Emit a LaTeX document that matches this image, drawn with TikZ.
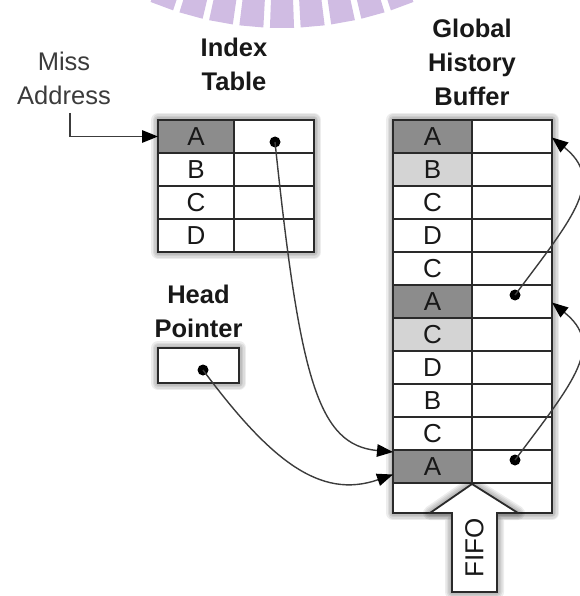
\documentclass[tikz,border=0pt]{standalone}
\usepackage{fontspec}
\setmainfont{Liberation Sans}
\usetikzlibrary{calc,arrows.meta}
\definecolor{cellDark}{RGB}{140,140,140}
\definecolor{cellLight}{RGB}{212,212,212}
\definecolor{gridLine}{RGB}{42,42,42}
\definecolor{wireGray}{RGB}{60,60,60}
\definecolor{crestPurple}{RGB}{208,188,227}
\definecolor{inkBlack}{RGB}{24,24,24}
\pgfdeclarelayer{back}
\pgfsetlayers{back,main}
\begin{document}
\begin{tikzpicture}[x=1pt,y=-1pt,
  cell/.style={draw=gridLine, line width=1.6pt, minimum height=33pt,
    inner sep=0pt, outer sep=0pt, text=inkBlack,
    font=\fontsize{26}{26}\selectfont, text height=18pt, text depth=0pt},
  frame/.style={draw=gridLine, line width=2.2pt},
  haze/.style={draw=black, opacity=0.07, line join=round, yshift=-2.5pt},
  title/.style={anchor=base, inner sep=0pt, text=inkBlack,
    font=\fontsize{25.5}{25.5}\selectfont\bfseries},
  plain/.style={anchor=base, inner sep=0pt, text=inkBlack!85,
    font=\fontsize{25.5}{25.5}\selectfont},
  dot/.style={circle, fill=black, minimum size=11pt, inner sep=0pt},
  wire/.style={draw=wireGray, line width=1.4pt},
  wirehead/.style={-{Triangle[length=16pt,width=12.5pt,color=black]}},
]
\useasboundingbox (0,0) rectangle (579,596);

% crest arc along the top edge
\begin{scope}
  \clip (0,0) rectangle (579,596);
  \foreach \k in {-4,...,4} {
    \fill[crestPurple]
      ({282+345*sin(\k*5.1-2)}, {-317+345*cos(\k*5.1-2)}) --
      ({282+345*sin(\k*5.1+2)}, {-317+345*cos(\k*5.1+2)}) --
      ({282+270*sin(\k*5.1+2)}, {-317+270*cos(\k*5.1+2)}) --
      ({282+270*sin(\k*5.1-2)}, {-317+270*cos(\k*5.1-2)}) -- cycle;
  }
\end{scope}

% headings
\node[plain] (miss1) at (64,71) {Miss};
\node[plain] (miss2) at (64,105) {Address};
\node[title] (idx1) at (234,57) {Index};
\node[title] (idx2) at (234,91) {Table};
\node[title] (ghb1) at (472,38) {Global};
\node[title] (ghb2) at (472,72) {History};
\node[title] (ghb3) at (472,106) {Buffer};
\node[title] (hp1) at (198.5,303) {Head};
\node[title] (hp2) at (198.5,337) {Pointer};

% index table
\foreach \r/\t/\f in {1/A/cellDark,2/B/white,3/C/white,4/D/white} {
  \node[cell, fill=\f, minimum width=76pt] (i\r) at (196,{136.5+33*(\r-1)}) {\t};
  \node[cell, fill=white, minimum width=80pt] (ip\r) at (274,{136.5+33*(\r-1)}) {};
}
\draw[frame] (i1.north west) rectangle (ip4.south east);

% global history buffer
\foreach \r/\t/\f in {1/A/cellDark,2/B/cellLight,3/C/white,4/D/white,5/C/white,
    6/A/cellDark,7/C/cellLight,8/D/white,9/B/white,10/C/white,11/A/cellDark} {
  \node[cell, fill=\f, minimum width=79pt] (g\r) at (432.5,{136.5+33*(\r-1)}) {\t};
  \node[cell, fill=white, minimum width=80pt] (p\r) at (512,{136.5+33*(\r-1)}) {};
}
\node[cell, fill=white, minimum width=79pt, minimum height=30pt] (g12) at (432.5,498) {};
\node[cell, fill=white, minimum width=80pt, minimum height=30pt] (p12) at (512,498) {};
\draw[frame] (g1.north west) rectangle (p12.south east);

% head pointer box
\node[cell, fill=white, minimum width=81pt, minimum height=35pt, line width=2pt] (hp) at (198.5,365.5) {};

% soft shadows under the boxes
\begin{pgfonlayer}{back}
  \foreach \w in {14,11,8,5,2} {
    \draw[haze, line width=\w pt] (i1.north west) rectangle (ip4.south east);
    \draw[haze, line width=\w pt] (g1.north west) rectangle (p12.south east);
    \draw[haze, line width=\w pt] (hp.north west) rectangle (hp.south east);
  }
\end{pgfonlayer}

% FIFO arrow entering the buffer
\coordinate (fa1) at (472,484);
\coordinate (fa2) at (518,513);
\coordinate (fa3) at (497,513);
\coordinate (fa4) at (497,592);
\coordinate (fa5) at (452,592);
\coordinate (fa6) at (452,513);
\coordinate (fa7) at (430,513);
\begin{scope}
  \clip (g12.north west) rectangle (579,596);
  \foreach \w in {14,11,8,5,2} {
    \draw[haze, line width=\w pt] (fa1) -- (fa2) -- (fa3) -- (fa4) -- (fa5) -- (fa6) -- (fa7) -- cycle;
  }
\end{scope}
\draw[draw=gridLine, line width=1.8pt, fill=white, line join=miter]
  (fa1) -- (fa2) -- (fa3) -- (fa4) -- (fa5) -- (fa6) -- (fa7) -- cycle;
\node[rotate=90, inner sep=0pt, text=inkBlack, font=\fontsize{26}{26}\selectfont] (fifo) at (474.5,548) {FIFO};

% pointer dots
\node[dot] (di) at (275,142) {};
\node[dot] (dh) at (203,370) {};
\node[dot] (d6) at (515,295) {};
\node[dot] (d11) at (515,460) {};

% connectors
\coordinate (missfoot) at (70,113);
\draw[wire, wirehead] (missfoot) |- (i1.west);
\draw[wire, wirehead] (di.center) .. controls (300,380) and (318,445) .. ($(g11.north west)+(0,2)$);
\draw[wire, wirehead] (dh.center) .. controls (270,460) and (320,500) .. ($(g11.west)+(0,8)$);
\draw[wire, wirehead] (d6.center) .. controls (575,215) and (605,180) .. ($(p1.east)+(0,1)$);
\draw[wire, wirehead] (d11.center) .. controls (575,380) and (605,345) .. ($(p6.east)+(0,1)$);
\end{tikzpicture}
\end{document}
